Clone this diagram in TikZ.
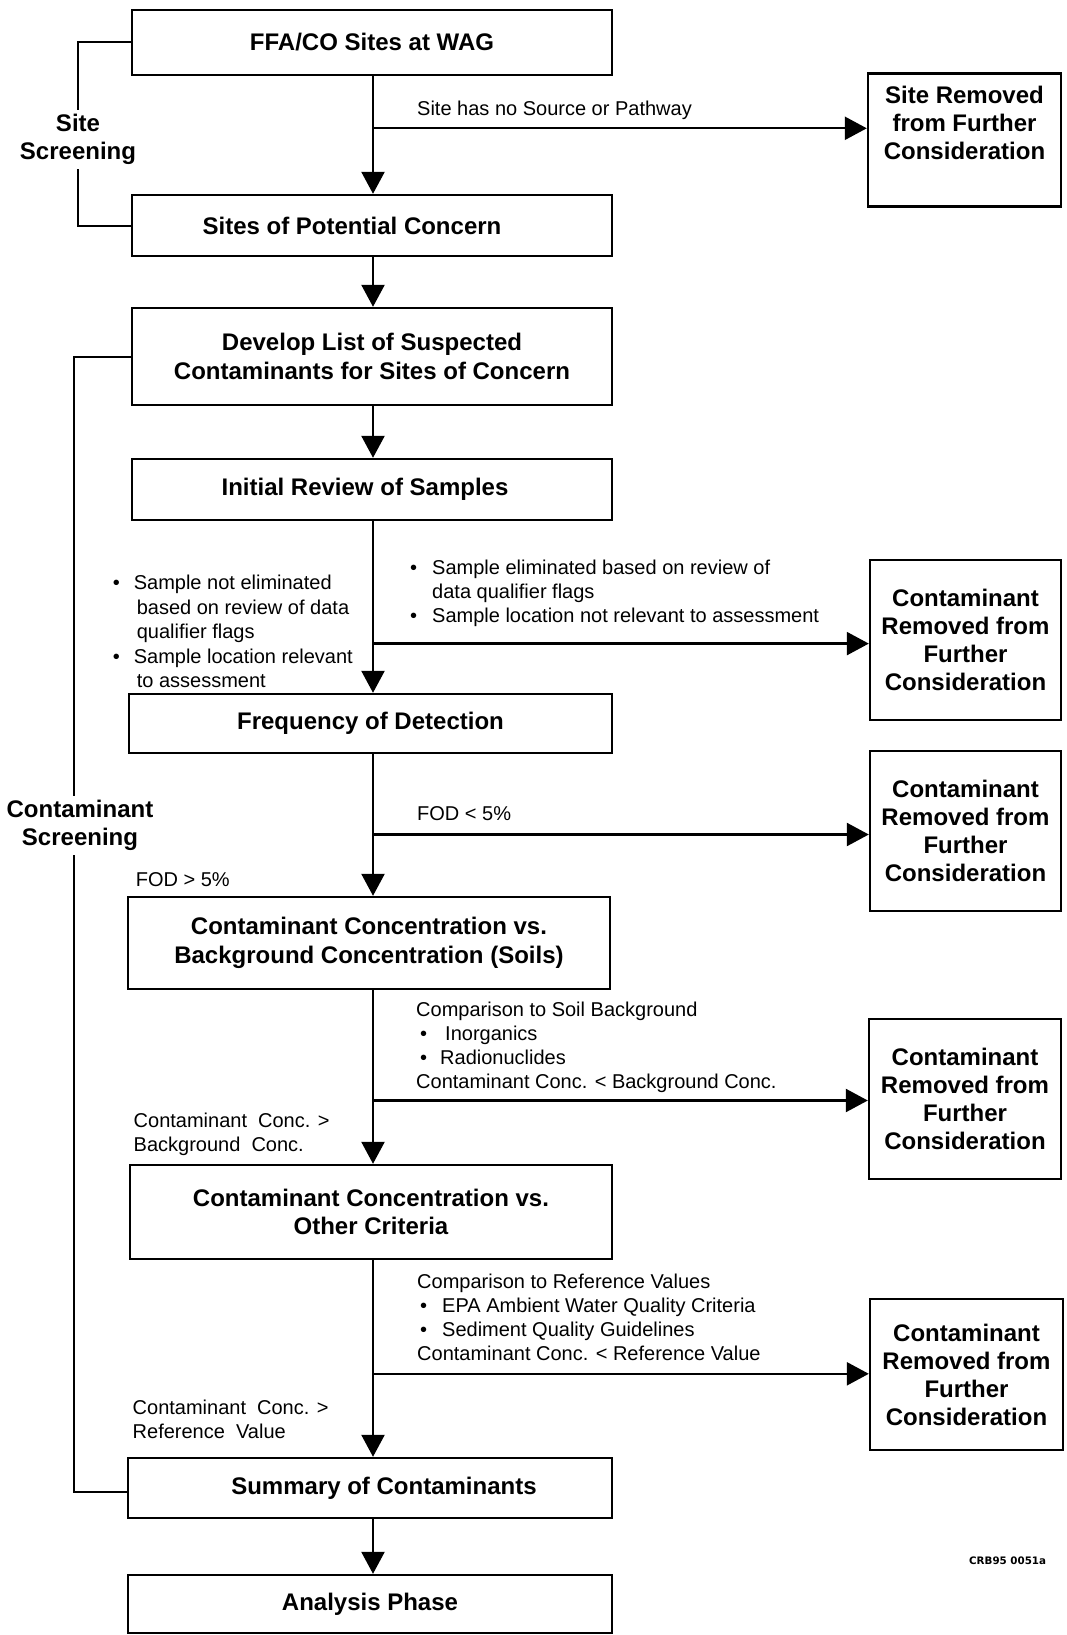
\documentclass[tikz,border=0pt]{standalone}
\usepackage{fontspec}
\setmainfont{Liberation Sans}
\newfontfamily\wideface{DejaVu Sans}
\usetikzlibrary{arrows.meta}

\begin{document}
\begin{tikzpicture}[x=1pt,y=-1pt,
  mainbox/.style={draw, line width=2.4pt, minimum width=480pt, inner sep=0pt,
    align=center, font=\fontsize{24}{28.5}\selectfont\bfseries},
  sidebox/.style={draw, line width=2.4pt, minimum width=192pt, inner sep=0pt,
    align=center, font=\fontsize{24}{28}\selectfont\bfseries},
  flow/.style={line width=2.4pt, -{Triangle[length=22pt,width=23pt]}},
  bracket/.style={line width=2pt},
  lbl/.style={inner sep=0pt, anchor=base west, font=\fontsize{20}{24}\selectfont},
  phase/.style={fill=white, inner sep=4pt, align=center,
    font=\fontsize{24}{28.5}\selectfont\bfseries},
]
% page
\fill[white] (0,0) rectangle (1066,1635);
\useasboundingbox (0,0) rectangle (1066,1635);

% main column
\node[mainbox, minimum height=65pt] (ffa) at (372,42.5) {FFA/CO Sites at WAG};
\node[mainbox, minimum height=61pt] (spc) at (372,225.5) {Sites of Potential Concern\hspace*{40pt}};
\node[mainbox, minimum height=97pt] (dev) at (372,356.5)
  {Develop List of Suspected\\Contaminants for Sites of Concern};
\node[mainbox, minimum height=61pt] (irs) at (372,489.5) {Initial Review of Samples\hspace*{14pt}};
\node[mainbox, minimum width=483pt, minimum height=59pt] (fod) at (370.5,723.5) {Frequency of Detection};
\node[mainbox, minimum width=482pt, minimum height=92pt] (bkg) at (369,943)
  {Contaminant Concentration vs.\\Background Concentration (Soils)};
\node[mainbox, minimum width=482pt, minimum height=94pt] (oth) at (371,1212)
  {Contaminant Concentration vs.\\Other Criteria};
\node[mainbox, minimum width=484pt, minimum height=60pt] (sum) at (370,1488) {\hspace*{28pt}Summary of Contaminants};
\node[mainbox, minimum width=484pt, minimum height=58pt] (ana) at (370,1604) {Analysis Phase};

% removal boxes
\node[sidebox, minimum width=193pt, minimum height=133pt] (rm1) at (964.5,140)
  {Site Removed\\from Further\\Consideration\\[6pt]~};
\node[sidebox, minimum width=191pt, minimum height=160pt] (rm2) at (965.5,640)
  {Contaminant\\Removed from\\Further\\Consideration};
\node[sidebox, minimum width=191pt, minimum height=160pt] (rm3) at (965.5,831)
  {Contaminant\\Removed from\\Further\\Consideration};
\node[sidebox, minimum width=192pt, minimum height=160pt] (rm4) at (965,1099)
  {Contaminant\\Removed from\\Further\\Consideration};
\node[sidebox, minimum width=193pt, minimum height=151pt] (rm5) at (966.5,1374.5)
  {Contaminant\\Removed from\\Further\\Consideration};

% spine of the flow
\coordinate (sp) at (373,0);
\draw[flow] (ffa.south -| sp) -- (spc.north -| sp);
\draw[flow] (spc.south -| sp) -- (dev.north -| sp);
\draw[flow] (dev.south -| sp) -- (irs.north -| sp);
\draw[flow] (irs.south -| sp) -- (fod.north -| sp);
\draw[flow] (fod.south -| sp) -- (bkg.north -| sp);
\draw[flow] (bkg.south -| sp) -- (oth.north -| sp);
\draw[flow] (oth.south -| sp) -- (sum.north -| sp);
\draw[flow] (sum.south -| sp) -- (ana.north -| sp);

% branches to removal
\coordinate (b1) at (373,128.3);
\coordinate (b2) at (373,643.6);
\coordinate (b3) at (373,834.5);
\coordinate (b4) at (373,1100.5);
\coordinate (b5) at (373,1373.8);
\draw[flow] (b1) -- (b1 -| rm1.west);
\draw[flow] (b2) -- (b2 -| rm2.west);
\draw[flow] (b3) -- (b3 -| rm3.west);
\draw[flow] (b4) -- (b4 -| rm4.west);
\draw[flow] (b5) -- (b5 -| rm5.west);

% screening brackets
\draw[bracket] (ffa.west) -- ++(-53,0) |- (spc.west);
\node[phase] (ssl) at (78,139.5) {Site\\Screening};
\draw[bracket] (dev.west) -- ++(-57,0) |- ([yshift=-3.5pt]sum.west);
\node[phase] (csl) at (80,825.5) {Contaminant\\Screening};

% branch labels
\node[lbl] (l1) at (417,115.5) {Site has no Source or Pathway};
\node[lbl] (l2) at (410,574.5) {\begin{tabular}[t]{@{}l@{\hspace{15pt}}l@{}}
  •&Sample eliminated based on review of\\
  &data qualifier flags\\
  •&Sample location not relevant to assessment\end{tabular}};
\node[lbl, font=\fontsize{20}{24.6}\selectfont] (l3) at (112.6,589.5) {\begin{tabular}[t]{@{}l@{\hspace{14pt}}l@{}}
  •&Sample not eliminated\\
  &\hspace*{3pt}based on review of data\\
  &\hspace*{3pt}qualifier flags\\
  •&Sample location relevant\\
  &\hspace*{3pt}to assessment\end{tabular}};
\node[lbl] (l4) at (417,820.5) {FOD < 5\%};
\node[lbl] (l5) at (135.6,886) {FOD > 5\%};
\node[lbl] (l6) at (416,1016.5) {\begin{tabular}[t]{@{}l@{}}
  Comparison to Soil Background\\
  \hspace*{4pt}•\hspace*{18pt}Inorganics\\
  \hspace*{4pt}•\hspace*{13pt}Radionuclides\\
  Contaminant Conc. < Background Conc.\end{tabular}};
\node[lbl] (l7) at (133.5,1127.5) {\begin{tabular}[t]{@{}l@{}}
  Contaminant\ \ Conc. >\\
  Background\ \ Conc.\end{tabular}};
\node[lbl] (l8) at (417,1288.5) {\begin{tabular}[t]{@{}l@{}}
  Comparison to Reference Values\\
  \hspace*{3pt}•\hspace*{15pt}EPA Ambient Water Quality Criteria\\
  \hspace*{3pt}•\hspace*{15pt}Sediment Quality Guidelines\\
  Contaminant Conc. < Reference Value\end{tabular}};
\node[lbl] (l9) at (132.5,1414.5) {\begin{tabular}[t]{@{}l@{}}
  Contaminant\ \ Conc. >\\
  Reference\ \ Value\end{tabular}};

% drawing number
\node[inner sep=0pt, font=\wideface\bfseries\fontsize{10.3}{12}\selectfont] (crb) at (1007.6,1560.5) {CRB95 0051a};
\end{tikzpicture}
\end{document}
